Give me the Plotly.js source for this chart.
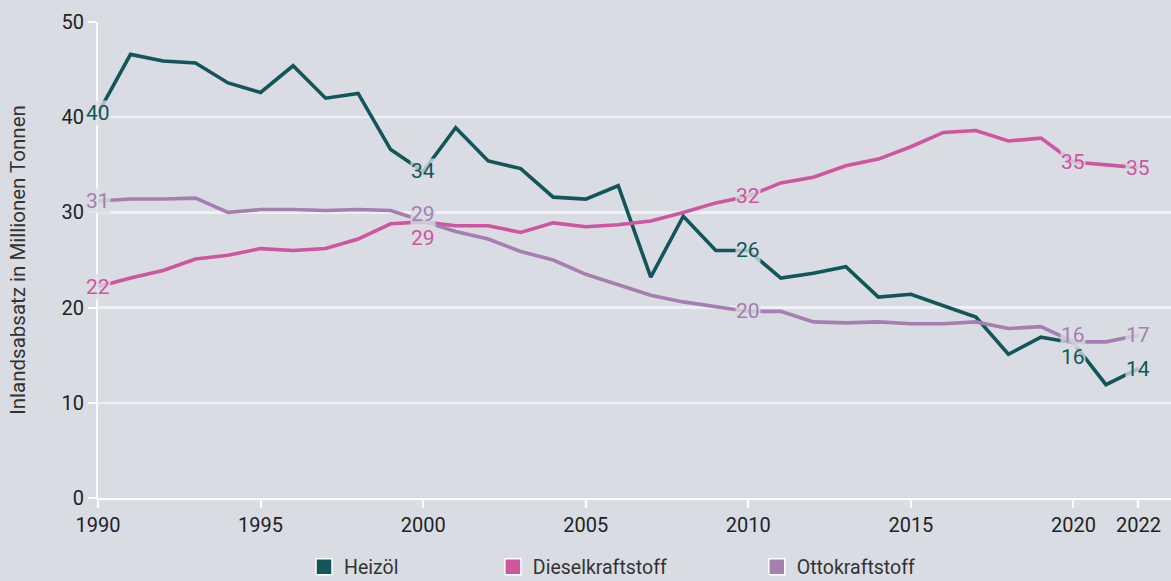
<!DOCTYPE html>
<html>
<head>
<meta charset="utf-8">
<script src="https://cdn.plot.ly/plotly-3.0.1.min.js"></script>
<style>
html,body{margin:0;padding:0;background:#d9dce3;}
#chart{width:1171px;height:581px;}
</style>
</head>
<body>
<div id="chart"></div>
<script>
// ---- data ----
const years = [1990,1991,1992,1993,1994,1995,1996,1997,1998,1999,2000,2001,2002,2003,2004,2005,2006,2007,2008,2009,2010,2011,2012,2013,2014,2015,2016,2017,2018,2019,2020,2021,2022];
const heizoel = [40.4,46.6,45.9,45.7,43.6,42.6,45.4,42.0,42.5,36.6,34.3,38.9,35.4,34.6,31.6,31.4,32.8,23.2,29.6,26.0,26.0,23.1,23.6,24.3,21.1,21.4,20.2,19.0,15.1,16.9,16.3,11.9,13.6];
const diesel  = [22.2,23.1,23.9,25.1,25.5,26.2,26.0,26.2,27.2,28.8,29.0,28.6,28.6,27.9,28.9,28.5,28.7,29.1,30.0,31.0,31.7,33.1,33.7,34.9,35.6,36.9,38.4,38.6,37.5,37.8,35.3,35.0,34.7];
const otto    = [31.2,31.4,31.4,31.5,30.0,30.3,30.3,30.2,30.3,30.2,29.1,28.0,27.2,25.9,25.0,23.5,22.4,21.3,20.6,20.1,19.6,19.6,18.5,18.4,18.5,18.3,18.3,18.5,17.8,18.0,16.4,16.4,17.1];
const seriesNames = ['Heizöl','Dieselkraftstoff','Ottokraftstoff'];
const xTickVals = [1990,1995,2000,2005,2010,2015,2020,2022];
const labelYears = [1990,2000,2010,2020,2022];
const yAxisTitle = 'Inlandsabsatz in Millionen Tonnen';

// ---- styles ----
const colors = ['#135659','#cf559f','#a57fb0'];
const bg = '#d9dce3';
const font = 'Roboto, "Open Sans", sans-serif';
// vertical pixel shifts of value labels where they collide (series index -> year -> shift)
const labelShift = [
  {2020:-14},
  {2000:-16},
  {2000:7, 2020:7}
];
const legendX = [0.192, 0.368, 0.614];

const allSeries = [heizoel, diesel, otto];
const traces = [];
allSeries.forEach((vals, i) => {
  traces.push({
    type:'scatter', mode:'lines', x:years, y:vals, name:seriesNames[i],
    line:{color:colors[i], width:3.6}, showlegend:false, hoverinfo:'x+y'
  });
});
// legend entries (square swatches)
allSeries.forEach((vals, i) => {
  traces.push({
    type:'scatter', mode:'markers', x:[null], y:[null], name:seriesNames[i],
    marker:{symbol:'square', size:16, color:colors[i], line:{color:'#ffffff', width:1.5}},
    legend: i === 0 ? 'legend' : 'legend' + (i+1), showlegend:true
  });
});

const annotations = [];
allSeries.forEach((vals, i) => {
  labelYears.forEach(yr => {
    const idx = years.indexOf(yr);
    const v = vals[idx];
    annotations.push({
      x: yr, y: v, xref:'x', yref:'y',
      text: String(Math.round(v)), showarrow:false,
      font:{family:font, size:21, color:colors[i]},
      bgcolor:'rgba(217,220,227,0.78)', borderpad:0,
      yshift: labelShift[i][yr] || 0
    });
  });
});

const legendBase = (x) => ({
  orientation:'h', x:x, xanchor:'left', y:-0.145, yanchor:'middle',
  bgcolor:'rgba(0,0,0,0)', font:{family:font, size:19.5, color:'#333333'}
});

const layout = {
  width:1171, height:581,
  paper_bgcolor:bg, plot_bgcolor:bg,
  margin:{l:98, r:0, t:22, b:83, autoexpand:false},
  font:{family:font, size:18, color:'#222222'},
  xaxis:{
    range:[1990,2023], tickvals:xTickVals, ticktext:xTickVals.map(String),
    showgrid:false, zeroline:false, showline:true, linecolor:'#ffffff', linewidth:2,
    ticks:'outside', ticklen:8, tickwidth:2, tickcolor:'#ffffff',
    tickfont:{family:font, size:20, color:'#222222'}, fixedrange:true, automargin:false
  },
  yaxis:{
    range:[0,50], dtick:10, tick0:0,
    showgrid:true, gridcolor:'#eef0f3', gridwidth:2.5, zeroline:false,
    showline:true, linecolor:'#ffffff', linewidth:2,
    ticks:'outside', ticklen:8, tickwidth:2, tickcolor:'#ffffff',
    tickfont:{family:font, size:20, color:'#222222'},
    title:{text:yAxisTitle, font:{family:font, size:20.5, color:'#333333'}, standoff:30},
    automargin:false, fixedrange:true
  },
  legend: legendBase(legendX[0]),
  legend2: legendBase(legendX[1]),
  legend3: legendBase(legendX[2]),
  annotations: annotations,
  showlegend:true
};

Plotly.newPlot('chart', traces, layout, {displayModeBar:false, staticPlot:true});
</script>
</body>
</html>
